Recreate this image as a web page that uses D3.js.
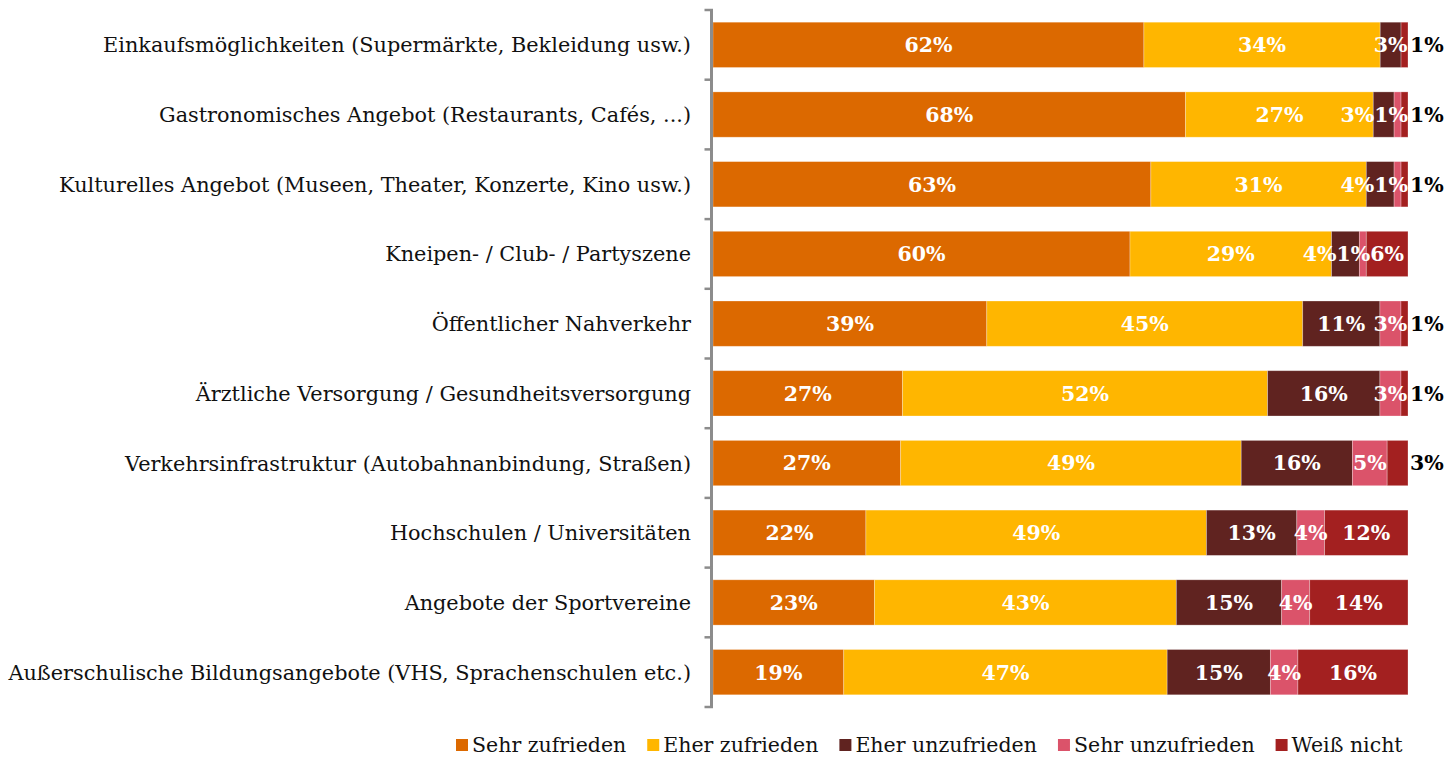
<!DOCTYPE html>
<html>
<head>
<meta charset="utf-8">
<script src="https://cdn.jsdelivr.net/npm/d3@7"></script>
<style>
  html, body { margin: 0; padding: 0; background: #fff; }
  svg { display: block; }
</style>
</head>
<body>
<svg id="chart" width="1451" height="757"></svg>
<script>
const categories = [
  "Einkaufsmöglichkeiten (Supermärkte, Bekleidung usw.)",
  "Gastronomisches Angebot (Restaurants, Cafés, ...)",
  "Kulturelles Angebot (Museen, Theater, Konzerte, Kino usw.)",
  "Kneipen- / Club- / Partyszene",
  "Öffentlicher Nahverkehr",
  "Ärztliche Versorgung / Gesundheitsversorgung",
  "Verkehrsinfrastruktur (Autobahnanbindung, Straßen)",
  "Hochschulen / Universitäten",
  "Angebote der Sportvereine",
  "Außerschulische Bildungsangebote (VHS, Sprachenschulen etc.)"
];
const seriesNames = ["Sehr zufrieden", "Eher zufrieden", "Eher unzufrieden", "Sehr unzufrieden", "Weiß nicht"];
const sehrZufrieden   = [62, 68, 63, 60, 39, 27, 27, 22, 23, 19];
const eherZufrieden   = [34, 27, 31, 29, 45, 52, 49, 49, 43, 47];
const eherUnzufrieden = [3, 3, 4, 4, 11, 16, 16, 13, 15, 15];
const sehrUnzufrieden = [0, 1, 1, 1, 3, 3, 5, 4, 4, 4];
const weissNicht      = [1, 1, 1, 6, 1, 1, 3, 12, 14, 16];
const seriesColors = ["#DC6900", "#FFB600", "#602320", "#DB536A", "#A32020"];

const seriesValues = [sehrZufrieden, eherZufrieden, eherUnzufrieden, sehrUnzufrieden, weissNicht];
const rows = categories.map((c, i) => {
  const r = { category: c };
  seriesNames.forEach((s, k) => { r[s] = seriesValues[k][i]; });
  return r;
});

const svg = d3.select("#chart");
const catFont = "'DejaVu Serif', Georgia, serif";

const x = d3.scaleLinear().domain([0, 1]).range([713, 1408]);
const y = d3.scaleBand().domain(categories).range([10, 707]).paddingInner(0.35).paddingOuter(0.175);
const color = d3.scaleOrdinal().domain(seriesNames).range(seriesColors);

const stacked = d3.stack().keys(seriesNames).offset(d3.stackOffsetExpand)(rows);

// bars
const layers = svg.append("g").selectAll("g").data(stacked).join("g")
  .attr("fill", d => color(d.key));
layers.selectAll("rect").data(d => d.map(s => ({ s, key: d.key })))
  .join("rect")
  .attr("x", d => x(d.s[0]))
  .attr("y", d => y(d.s.data.category))
  .attr("width", d => Math.max(0, x(d.s[1]) - x(d.s[0])))
  .attr("height", y.bandwidth())
  .attr("stroke", "#ffffff")
  .attr("stroke-opacity", 0.35)
  .attr("stroke-width", 0.8);

// axis (left, with ticks at band boundaries)
const axisG = svg.append("g");
const y0 = y.range()[0], y1 = y.range()[1];
const axisX = 711.5;
axisG.append("line")
  .attr("x1", axisX).attr("x2", axisX).attr("y1", y0).attr("y2", y1)
  .attr("stroke", "#8c8c8c").attr("stroke-width", 3);
const boundaries = d3.range(categories.length + 1).map(i => y0 + i * y.step());
axisG.selectAll("line.tick").data(boundaries).join("line")
  .attr("class", "tick")
  .attr("x1", axisX - 7).attr("x2", axisX + 1.5)
  .attr("y1", d => d).attr("y2", d => d)
  .attr("stroke", "#8c8c8c").attr("stroke-width", 2.5);

// category labels
svg.append("g").selectAll("text").data(categories).join("text")
  .attr("x", 691)
  .attr("y", d => y(d) + y.bandwidth() / 2)
  .attr("dy", "0.36em")
  .attr("text-anchor", "end")
  .attr("font-family", catFont)
  .attr("font-size", 20.8)
  .attr("fill", "#111")
  .text(d => d);

// value labels
const fmt = v => v + "%";
const labelG = svg.append("g")
  .attr("font-family", catFont)
  .attr("font-weight", "bold")
  .attr("font-size", 20.5);

rows.forEach((row, i) => {
  const segs = stacked.map(layer => ({
    key: layer.key,
    v: row[layer.key],
    x0: x(layer[i][0]),
    x1: x(layer[i][1])
  })).filter(s => s.v > 0);
  const cy = y(row.category) + y.bandwidth() / 2;
  const inside = [];
  segs.forEach(s => {
    if (s.key === seriesNames[seriesNames.length - 1] && s.v <= 3) {
      labelG.append("text")
        .attr("x", x(1) + 2)
        .attr("y", cy)
        .attr("dy", "0.36em")
        .attr("fill", "#000")
        .text(fmt(s.v));
    } else {
      const t = labelG.append("text")
        .attr("y", cy)
        .attr("dy", "0.36em")
        .attr("text-anchor", "middle")
        .attr("fill", "#fff")
        .text(fmt(s.v));
      inside.push({ s, t, w: t.node().getComputedTextLength() });
    }
  });
  let limit = x(1);
  for (let k = inside.length - 1; k >= 0; k--) {
    const L = inside[k];
    const c = (L.s.x0 + L.s.x1) / 2;
    const cx = Math.min(c, limit - L.w / 2);
    L.t.attr("x", cx);
    limit = cx - L.w / 2;
  }
});

// legend
const legend = svg.append("g").attr("font-family", catFont).attr("font-size", 20.5);
let lx = 456;
const ly = 745;
seriesNames.forEach(name => {
  legend.append("rect")
    .attr("x", lx).attr("y", ly - 6).attr("width", 12).attr("height", 12)
    .attr("fill", color(name));
  const t = legend.append("text")
    .attr("x", lx + 16).attr("y", ly).attr("dy", "0.36em")
    .attr("fill", "#111")
    .text(name);
  lx += 16 + t.node().getComputedTextLength() + 21;
});
</script>
</body>
</html>
